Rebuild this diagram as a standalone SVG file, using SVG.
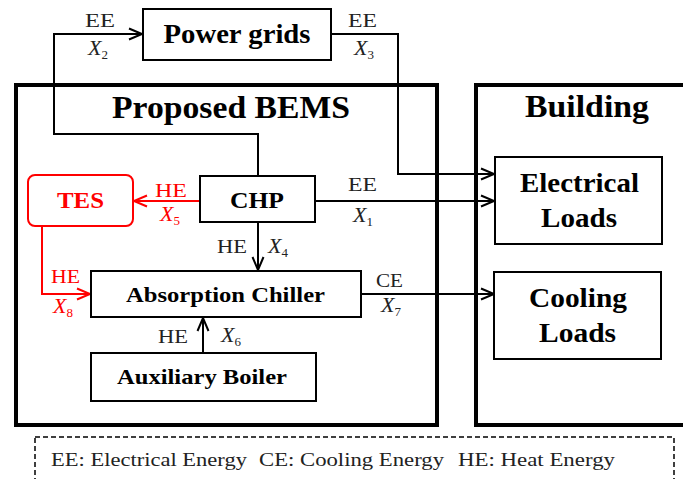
<svg xmlns="http://www.w3.org/2000/svg" width="683" height="479" viewBox="0 0 683 479">
<style>
.box{fill:#fff;stroke:#000;stroke-width:2}
.big{fill:none;stroke:#000;stroke-width:4}
.t{font-family:"Liberation Serif","Times New Roman",serif;font-weight:bold;fill:#000;text-anchor:middle}
.lb{font-family:"Liberation Serif","Times New Roman",serif;font-size:19px;fill:#222}
.x{font-style:italic;font-size:22px}
.s{font-size:13px}
.red{fill:#f00}
.c{fill:none;stroke:#000;stroke-width:2}
.cr{fill:none;stroke:#f00;stroke-width:2}
</style>
<defs>
<marker id="ab" markerUnits="userSpaceOnUse" markerWidth="16" markerHeight="14" refX="14" refY="7" orient="auto"><path d="M1,1.5 L14,7 L1,12.5" fill="none" stroke="#000" stroke-width="2"/></marker>
<marker id="ar" markerUnits="userSpaceOnUse" markerWidth="16" markerHeight="14" refX="14" refY="7" orient="auto"><path d="M1,1.5 L14,7 L1,12.5" fill="none" stroke="#f00" stroke-width="2"/></marker>
</defs>
<rect width="683" height="479" fill="#fff"/>

<g id="bems">
<rect class="big" x="16" y="85" width="421" height="340"/>
<text class="t" x="231" y="118" font-size="32" textLength="238" lengthAdjust="spacingAndGlyphs">Proposed BEMS</text>
</g>
<g id="building">
<rect class="big" x="476" y="85" width="230" height="340"/>
<text class="t" x="587" y="117" font-size="31" textLength="124" lengthAdjust="spacingAndGlyphs">Building</text>
</g>

<g id="connectors">
<path class="c" d="M258,176 V134 H54 V34 H142" marker-end="url(#ab)"/>
<path class="c" d="M331,34 H398 V174 H494" marker-end="url(#ab)"/>
<path class="c" d="M315,201 H494" marker-end="url(#ab)"/>
<path class="c" d="M258,222 V270" marker-end="url(#ab)"/>
<path class="cr" d="M200,201 H134" marker-end="url(#ar)"/>
<path class="cr" d="M42,226 V294 H90" marker-end="url(#ar)"/>
<path class="c" d="M361,294 H494" marker-end="url(#ab)"/>
<path class="c" d="M203,353 V318" marker-end="url(#ab)"/>
<text class="lb" x="85" y="27" textLength="30" lengthAdjust="spacingAndGlyphs">EE</text>
<text class="lb" x="88" y="55"><tspan class="x">X</tspan><tspan class="s" dy="4">2</tspan></text>
<text class="lb" x="348" y="27" textLength="29" lengthAdjust="spacingAndGlyphs">EE</text>
<text class="lb" x="354" y="55"><tspan class="x">X</tspan><tspan class="s" dy="4">3</tspan></text>
<text class="lb" x="348" y="191" textLength="29" lengthAdjust="spacingAndGlyphs">EE</text>
<text class="lb" x="353" y="222"><tspan class="x">X</tspan><tspan class="s" dy="4">1</tspan></text>
<text class="lb red" x="155" y="197" textLength="32" lengthAdjust="spacingAndGlyphs">HE</text>
<text class="lb red" x="160" y="221"><tspan class="x">X</tspan><tspan class="s" dy="4">5</tspan></text>
<text class="lb" x="217" y="253" textLength="30" lengthAdjust="spacingAndGlyphs">HE</text>
<text class="lb" x="268" y="253"><tspan class="x">X</tspan><tspan class="s" dy="4">4</tspan></text>
<text class="lb red" x="51" y="283" textLength="29" lengthAdjust="spacingAndGlyphs">HE</text>
<text class="lb red" x="53" y="313"><tspan class="x">X</tspan><tspan class="s" dy="4">8</tspan></text>
<text class="lb" x="376" y="287" textLength="27" lengthAdjust="spacingAndGlyphs">CE</text>
<text class="lb" x="381" y="312"><tspan class="x">X</tspan><tspan class="s" dy="4">7</tspan></text>
<text class="lb" x="158" y="343" textLength="30" lengthAdjust="spacingAndGlyphs">HE</text>
<text class="lb" x="221" y="342"><tspan class="x">X</tspan><tspan class="s" dy="4">6</tspan></text>
</g>

<g id="power-grids">
<rect class="box" x="143" y="9" width="188" height="51"/>
<text class="t" x="237" y="43" font-size="27" textLength="147" lengthAdjust="spacingAndGlyphs">Power grids</text>
</g>
<g id="tes">
<rect x="28" y="175" width="105" height="51" rx="7" fill="#fff" stroke="#f00" stroke-width="2"/>
<text class="t red" x="80.5" y="208" font-size="24" textLength="47" lengthAdjust="spacingAndGlyphs">TES</text>
</g>
<g id="chp">
<rect class="box" x="200" y="176" width="115" height="46"/>
<text class="t" x="257" y="208" font-size="24" textLength="54" lengthAdjust="spacingAndGlyphs">CHP</text>
</g>
<g id="absorption-chiller">
<rect class="box" x="91" y="271" width="270" height="46"/>
<text class="t" x="225.5" y="302" font-size="22" textLength="199" lengthAdjust="spacingAndGlyphs">Absorption Chiller</text>
</g>
<g id="auxiliary-boiler">
<rect class="box" x="91" y="353" width="225" height="48"/>
<text class="t" x="202" y="384" font-size="22" textLength="170" lengthAdjust="spacingAndGlyphs">Auxiliary Boiler</text>
</g>
<g id="electrical-loads">
<rect class="box" x="495" y="157" width="167" height="87"/>
<text class="t" x="579.5" y="192" font-size="27" textLength="119" lengthAdjust="spacingAndGlyphs">Electrical</text>
<text class="t" x="579" y="227" font-size="27" textLength="76" lengthAdjust="spacingAndGlyphs">Loads</text>
</g>
<g id="cooling-loads">
<rect class="box" x="494" y="272" width="167" height="87"/>
<text class="t" x="578" y="307" font-size="27" textLength="98" lengthAdjust="spacingAndGlyphs">Cooling</text>
<text class="t" x="577.5" y="342" font-size="27" textLength="77" lengthAdjust="spacingAndGlyphs">Loads</text>
</g>

<g id="legend">
<rect x="35" y="437" width="639" height="60" fill="none" stroke="#000" stroke-width="1.5" stroke-dasharray="5,3"/>
<text class="lb" font-size="21" x="51" y="466" textLength="196" lengthAdjust="spacingAndGlyphs">EE: Electrical  Energy</text>
<text class="lb" font-size="21" x="259" y="466" textLength="185" lengthAdjust="spacingAndGlyphs">CE: Cooling Energy</text>
<text class="lb" font-size="21" x="458" y="466" textLength="157" lengthAdjust="spacingAndGlyphs">HE: Heat Energy</text>
</g>
</svg>
